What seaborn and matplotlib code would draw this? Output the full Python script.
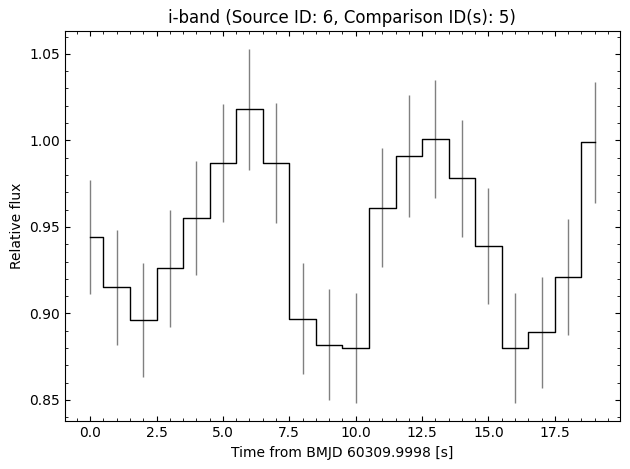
import matplotlib.pyplot as plt
import seaborn as sns
import pandas as pd
import numpy as np

# light curve values
time_s = list(range(20))
rel_flux = [0.944, 0.915, 0.896, 0.926, 0.955, 0.987, 1.018, 0.987, 0.897, 0.882,
            0.880, 0.961, 0.991, 1.001, 0.978, 0.939, 0.880, 0.889, 0.921, 0.999]
flux_err = [0.033, 0.033, 0.033, 0.034, 0.033, 0.034, 0.035, 0.0345, 0.032, 0.032,
            0.032, 0.0344, 0.035, 0.034, 0.034, 0.0335, 0.032, 0.032, 0.0333, 0.035]

lc = pd.DataFrame({'time': time_s, 'flux': rel_flux, 'err': flux_err})

# plain matplotlib look, black text
plt.rcParams['font.family'] = ['DejaVu Sans']

fig, ax = plt.subplots(figsize=(6.3, 4.69), dpi=100)
ax.errorbar(lc['time'], lc['flux'], yerr=lc['err'], fmt='none', ecolor='grey', elinewidth=1)
sns.lineplot(data=lc, x='time', y='flux', drawstyle='steps-mid', color='black', lw=1, ax=ax)

ax.set_title('i-band (Source ID: 6, Comparison ID(s): 5)')
ax.set_xlabel('Time from BMJD 60309.9998 [s]')
ax.set_ylabel('Relative flux')
ax.minorticks_on()
ax.tick_params(which='both', direction='in', top=True, right=True)

fig.subplots_adjust(left=0.103, right=0.984, bottom=0.102, top=0.934)
fig.savefig('out.png', dpi=100)
